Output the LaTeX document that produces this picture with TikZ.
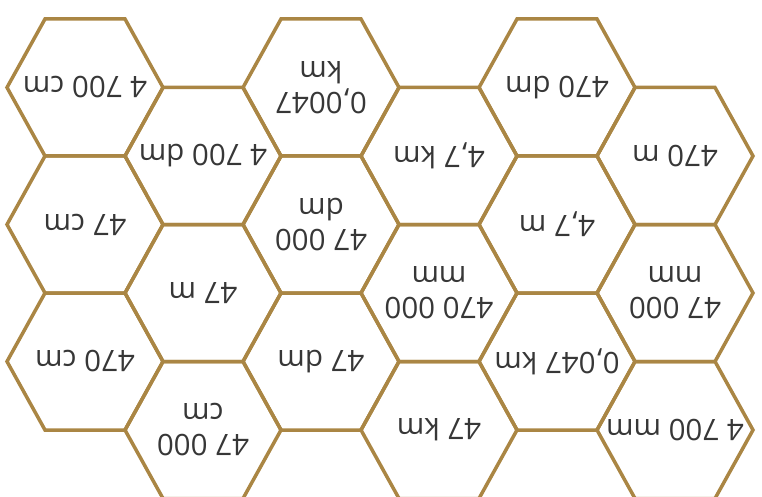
\documentclass[tikz,border=0pt]{standalone}
\usepackage{fontspec}
\setmainfont{Open Sans}
\usetikzlibrary{calc}
\definecolor{honey}{RGB}{170,134,68}
\definecolor{ink}{RGB}{55,55,55}

\begin{document}
\begin{tikzpicture}[
  x=1pt, y=-1pt,
  cell/.style={draw=honey, line width=3.5pt, line join=miter},
  lbl/.style={rotate=180, align=center, text=ink,
    font=\fontsize{29.5}{31}\selectfont}
]
\useasboundingbox (0,0) rectangle (762,497);
\clip (0,0) rectangle (762,497);
% column / row / text, one cell each
\foreach \c/\r/\t in {
  1/1/{4 700 cm}, 1/2/{47 cm}, 1/3/{470 cm},
  2/1/{4 700 dm}, 2/2/{47 m}, 2/3/{47 000\\cm},
  3/1/{0,0047\\km}, 3/2/{47 000\\dm}, 3/3/{47 dm},
  4/1/{4,7 km}, 4/2/{470 000\\mm}, 4/3/{47 km},
  5/1/{470 dm}, 5/2/{4,7 m}, 5/3/{0,047 km},
  6/1/{470 m}, 6/2/{47 000\\mm}, 6/3/{4 700 mm}}{
  \pgfmathsetmacro{\cx}{85+118*(\c-1)}
  \pgfmathsetmacro{\cy}{87.5+137*(\r-1)+68.5*mod(\c+1,2)}
  \coordinate (c-\c-\r) at (\cx,\cy);
  \draw[cell] ($(c-\c-\r)+(-78,0)$) -- ++(38,-68.5) -- ++(80,0)
    -- ++(38,68.5) -- ++(-38,68.5) -- ++(-80,0) -- cycle;
  \node[lbl] (h-\c-\r) at (c-\c-\r) {\t};
}
\end{tikzpicture}
\end{document}
